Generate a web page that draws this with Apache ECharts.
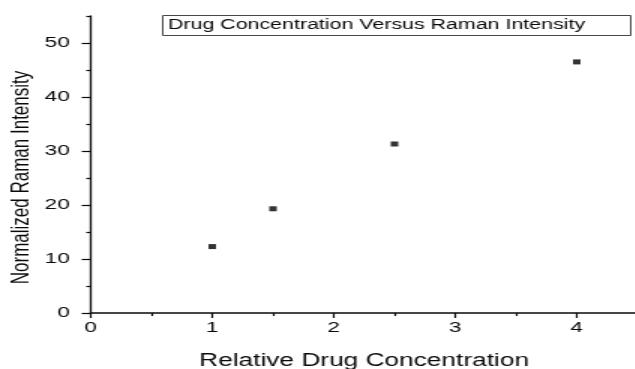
<!DOCTYPE html>
<html>
<head>
<meta charset="utf-8">
<script src="https://cdn.jsdelivr.net/npm/echarts@6/dist/echarts.min.js"></script>
<style>
  html, body { margin: 0; padding: 0; background: #fff; overflow: hidden; }
  #wrap { width: 635px; height: 369px; overflow: hidden; position: relative; }
  /* the reference picture is stretched horizontally (square markers appear 1.5x wide) */
  #chart { width: 423.33px; height: 369px; transform: scaleX(1.5); transform-origin: 0 0; }
</style>
</head>
<body>
<div id="wrap"><div id="chart"></div></div>
<script>
// ---- data ----
const seriesName = 'Drug Concentration Versus Raman Intensity';
const drugConc = [1, 1.5, 2.5, 4];
const ramanIntensity = [12.3, 19.3, 31.3, 46.5];
const xMajorTicks = [0, 1, 2, 3, 4];
const xMinorTicks = [0.5, 1.5, 2.5, 3.5, 4.5];
const yMajorTicks = [0, 10, 20, 30, 40, 50];
const yMinorTicks = [5, 15, 25, 35, 45, 55];
const xTitle = 'Relative Drug Concentration';
const yTitle = 'Normalized Raman Intensity';

const font = '"Liberation Sans", Arial, sans-serif';
const ink = '#0a0a0a';

const chart = echarts.init(document.getElementById('chart'), null, { renderer: 'canvas' });
const points = drugConc.map((x, i) => [x, ramanIntensity[i]]);

chart.setOption({
  animation: false,
  backgroundColor: '#fff',
  title: {
    text: seriesName,
    left: 108, top: 15,
    padding: [3, 31, 3, 4],
    borderColor: '#4a4646', borderWidth: 1,
    textStyle: { fontFamily: font, fontSize: 14.25, fontWeight: 'normal', color: ink, lineHeight: 15 }
  },
  grid: { left: 60.5, top: 16, width: 364.5, height: 297, containLabel: false, outerBoundsMode: 'none' },
  xAxis: [
    {
      type: 'value', min: 0, max: 4.5, position: 'bottom',
      name: xTitle, nameLocation: 'middle', nameGap: 39.5, nameMoveOverlap: false,
      nameTextStyle: { fontFamily: font, fontSize: 17.5, color: ink },
      axisLine: { show: true, onZero: false, lineStyle: { color: ink, width: 1.6 } },
      axisTick: { show: true, inside: false, length: 5, customValues: xMajorTicks, lineStyle: { color: ink, width: 1.2 } },
      axisLabel: { show: true, margin: 7, customValues: xMajorTicks, fontFamily: font, fontSize: 15, color: ink,
                   showMinLabel: true, showMaxLabel: true },
      splitLine: { show: false }
    },
    {
      type: 'value', min: 0, max: 4.5, position: 'bottom',
      axisLine: { show: false },
      axisTick: { show: true, inside: false, length: 3, customValues: xMinorTicks, lineStyle: { color: ink, width: 1.2 } },
      axisLabel: { show: false },
      splitLine: { show: false }
    }
  ],
  yAxis: [
    {
      type: 'value', min: 0, max: 55, position: 'left',
      name: yTitle, nameLocation: 'middle', nameGap: 38, nameMoveOverlap: false,
      nameTextStyle: { fontFamily: font, fontSize: 17, color: ink, padding: [0, 26, 0, 0] },
      axisLine: { show: true, onZero: false, lineStyle: { color: ink, width: 1.3 } },
      axisTick: { show: true, inside: false, length: 6, customValues: yMajorTicks, lineStyle: { color: ink, width: 1.2 } },
      axisLabel: { show: true, margin: 14, customValues: yMajorTicks, fontFamily: font, fontSize: 15, color: ink },
      splitLine: { show: false }
    },
    {
      type: 'value', min: 0, max: 55, position: 'left',
      axisLine: { show: false },
      axisTick: { show: true, inside: false, length: 3, customValues: yMinorTicks, lineStyle: { color: ink, width: 1.2 } },
      axisLabel: { show: false },
      splitLine: { show: false }
    }
  ],
  series: [{
    name: seriesName,
    type: 'scatter',
    xAxisIndex: 0, yAxisIndex: 0,
    data: points,
    symbol: 'rect',
    symbolSize: [5, 5],
    itemStyle: { color: '#000' }
  }]
});
</script>
</body>
</html>
